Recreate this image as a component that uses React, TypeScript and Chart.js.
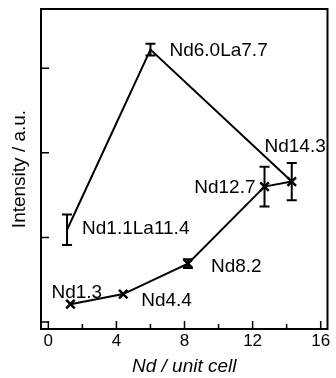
import React, { useEffect, useRef } from "react";
import { Chart, registerables } from "chart.js";

Chart.register(...registerables);

// Nd/La co-doped samples: Nd per unit cell, La per unit cell, intensity
const laNdX = [1.1, 6.0];
const laContent = [11.4, 7.7];
const laNdY = [1.09, 3.22];
const laNdErr = [0.18, 0.07];

// Nd-only samples
const ndX = [1.3, 4.4, 8.2, 12.7, 14.3];
const ndY = [0.21, 0.33, 0.69, 1.6, 1.66];
const ndErr = [0, 0, 0.053, 0.236, 0.22];

// Axis ticks
const xMajorTicks = [0, 4, 8, 12, 16];
const xMinorTicks = [2, 6, 10, 14];
const yTicks = [0, 1, 2, 3];

const FONT = "'Liberation Sans', Arial, Helvetica, sans-serif";

// label placement relative to each point (dx, dy in px, alignment)
const laLabelPlace = [
  { dx: 15, dy: 4, align: "left" },
  { dx: 19, dy: 6, align: "left" },
];
const ndLabelPlace = [
  { dx: -19, dy: -6, align: "left" },
  { dx: 18, dy: 12, align: "left" },
  { dx: 23, dy: 8, align: "left" },
  { dx: -9, dy: 6, align: "right" },
  { dx: 34, dy: -30, align: "right" },
];

export default function App() {
  const ref = useRef<HTMLCanvasElement | null>(null);

  useEffect(() => {
    if (!ref.current) return;

    // the La series joins the last Nd-only point
    const upper = laNdX.map((x, i) => ({ x, y: laNdY[i] }));
    upper.push({ x: ndX[ndX.length - 1], y: ndY[ndY.length - 1] });
    const lower = ndX.map((x, i) => ({ x, y: ndY[i] }));

    const decor = {
      id: "decor",
      afterDatasetsDraw(chart: any) {
        const ctx = chart.ctx as CanvasRenderingContext2D;
        const xs = chart.scales.x;
        const ys = chart.scales.y;
        const a = chart.chartArea;
        ctx.save();
        ctx.strokeStyle = "#000";
        ctx.fillStyle = "#000";
        ctx.lineWidth = 2;

        // error bars
        const errBar = (x: number, y: number, e: number) => {
          if (!e) return;
          const px = xs.getPixelForValue(x);
          const top = ys.getPixelForValue(y + e);
          const bot = ys.getPixelForValue(y - e);
          const cap = 5;
          ctx.beginPath();
          ctx.moveTo(px, top);
          ctx.lineTo(px, bot);
          ctx.moveTo(px - cap, top);
          ctx.lineTo(px + cap, top);
          ctx.moveTo(px - cap, bot);
          ctx.lineTo(px + cap, bot);
          ctx.stroke();
        };
        laNdX.forEach((x, i) => errBar(x, laNdY[i], laNdErr[i]));
        ndX.forEach((x, i) => errBar(x, ndY[i], ndErr[i]));

        // frame
        ctx.lineWidth = 2;
        ctx.strokeRect(a.left, a.top, a.right - a.left, a.bottom - a.top);

        // inward ticks
        ctx.lineWidth = 1.5;
        ctx.beginPath();
        xMajorTicks.forEach((t) => {
          const p = xs.getPixelForValue(t);
          ctx.moveTo(p, a.bottom);
          ctx.lineTo(p, a.bottom - 8);
        });
        xMinorTicks.forEach((t) => {
          const p = xs.getPixelForValue(t);
          ctx.moveTo(p, a.bottom);
          ctx.lineTo(p, a.bottom - 5);
        });
        yTicks.forEach((t) => {
          const p = ys.getPixelForValue(t);
          ctx.moveTo(a.left, p);
          ctx.lineTo(a.left + 8, p);
        });
        ctx.stroke();

        // sample labels
        ctx.font = `19px ${FONT}`;
        ctx.textBaseline = "alphabetic";
        const put = (text: string, x: number, y: number, pl: any) => {
          ctx.textAlign = pl.align;
          ctx.fillText(text, xs.getPixelForValue(x) + pl.dx, ys.getPixelForValue(y) + pl.dy);
        };
        laNdX.forEach((x, i) =>
          put(`Nd${x.toFixed(1)}La${laContent[i].toFixed(1)}`, x, laNdY[i], laLabelPlace[i])
        );
        ndX.forEach((x, i) => put(`Nd${x.toFixed(1)}`, x, ndY[i], ndLabelPlace[i]));
        ctx.restore();
      },
    };

    const chart = new Chart(ref.current, {
      type: "scatter",
      data: {
        datasets: [
          {
            data: upper,
            showLine: true,
            borderColor: "#000",
            borderWidth: 2,
            pointRadius: 0,
            tension: 0,
          },
          {
            data: lower,
            showLine: true,
            borderColor: "#000",
            borderWidth: 2,
            pointStyle: "crossRot",
            pointRadius: 6,
            pointBorderWidth: 2.5,
            pointBorderColor: "#000",
            tension: 0,
          },
        ],
      },
      options: {
        animation: false,
        responsive: true,
        maintainAspectRatio: false,
        layout: { padding: { top: 9, right: 3, left: 0, bottom: 0 } },
        plugins: { legend: { display: false }, tooltip: { enabled: false } },
        scales: {
          x: {
            type: "linear",
            min: -0.43,
            max: 16.4,
            grid: { display: false, drawTicks: false },
            border: { display: false },
            afterBuildTicks: (s: any) => {
              s.ticks = xMajorTicks.map((v) => ({ value: v }));
            },
            afterFit: (s: any) => {
              s.height = 49;
            },
            ticks: {
              color: "#000",
              padding: 2,
              font: { family: FONT, size: 17 },
              maxRotation: 0,
            },
            title: {
              display: true,
              text: "Nd / unit cell",
              color: "#000",
              padding: { top: 1, bottom: 0 },
              font: { family: FONT, size: 19, style: "italic" },
            },
          },
          y: {
            type: "linear",
            min: -0.083,
            max: 3.7,
            grid: { display: false, drawTicks: false },
            border: { display: false },
            ticks: { display: false },
            afterBuildTicks: (s: any) => {
              s.ticks = yTicks.map((v) => ({ value: v }));
            },
            afterFit: (s: any) => {
              s.width = 41;
            },
            title: {
              display: true,
              text: "Intensity / a.u.",
              color: "#000",
              padding: { top: 8, bottom: 0 },
              font: { family: FONT, size: 19 },
            },
          },
        },
      },
      plugins: [decor],
    });

    return () => chart.destroy();
  }, []);

  return (
    <div style={{ position: "fixed", left: 0, top: 0, width: 336, height: 378, background: "#fff" }}>
      <canvas ref={ref} />
    </div>
  );
}
